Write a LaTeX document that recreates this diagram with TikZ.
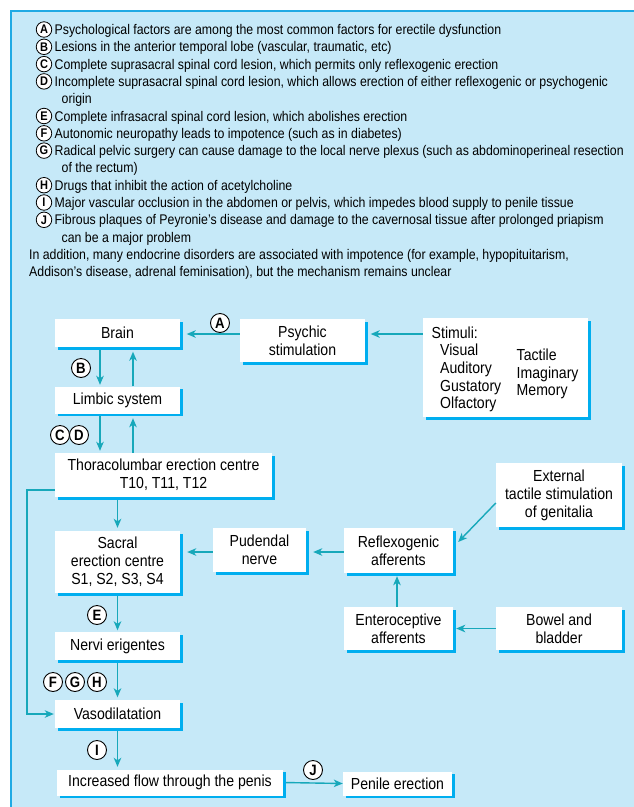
\documentclass[tikz,border=0pt]{standalone}
\usepackage{fontspec}
\setmainfont[FakeStretch=0.88]{Liberation Sans}
\usetikzlibrary{arrows.meta,shadows}
\definecolor{bgblue}{HTML}{C6E9F8}
\definecolor{shblue}{HTML}{00AEEF}
\definecolor{arrteal}{HTML}{17A8BA}
\definecolor{panelline}{HTML}{1FAAE4}
\begin{document}
\begin{tikzpicture}[x=1pt,y=-1pt,
  box/.style={fill=white, align=center, inner sep=0pt,
    font=\fontsize{16}{18}\selectfont,
    drop shadow={fill=shblue, opacity=1, shadow xshift=2.7pt, shadow yshift=-2.7pt}},
  arr/.style={draw=arrteal, line width=1.4pt, -{Stealth[length=9pt,width=7.5pt,inset=2.5pt]}},
  lab/.style={circle, draw=black, fill=white, line width=0.9pt, inner sep=0pt,
    minimum size=19pt, font=\fontsize{15}{15}\selectfont\bfseries},
  llab/.style={circle, draw=black, fill=white, line width=0.8pt, inner sep=0pt,
    minimum size=15.5pt, font=\fontsize{12.5}{12.5}\selectfont\bfseries},
  ltxt/.style={anchor=base west, inner sep=0pt,
    font=\fontsize{14}{17.3}\selectfont},
  stxt/.style={anchor=base west, inner sep=0pt, font=\fontsize{16}{18}\selectfont},
]
\useasboundingbox (0,0) rectangle (634,807);
\fill[bgblue] (11,11) rectangle (634,807);
\draw[panelline, line width=1.5pt] (11,807) -- (11,11) -- (634,11);

% ---- list of causes ----
\node[llab] (ca) at (44,29.5) {A};
\node[ltxt] (ta) at (54.5,34.5) {Psychological factors are among the most common factors for erectile dysfunction};
\node[llab] (cb) at (44,46.8) {B};
\node[ltxt] (tb) at (54.5,51.8) {Lesions in the anterior temporal lobe (vascular, traumatic, etc)};
\node[llab] (cc) at (44,64.1) {C};
\node[ltxt] (tc) at (54.5,69.1) {Complete suprasacral spinal cord lesion, which permits only reflexogenic erection};
\node[llab] (cd) at (44,81.4) {D};
\node[ltxt] (td) at (54.5,86.4) {Incomplete suprasacral spinal cord lesion, which allows erection of either reflexogenic or psychogenic};
\node[ltxt] (td2) at (61.5,103.7) {origin};
\node[llab] (ce) at (44,116) {E};
\node[ltxt] (te) at (54.5,121) {Complete infrasacral spinal cord lesion, which abolishes erection};
\node[llab] (cf) at (44,133.3) {F};
\node[ltxt] (tf) at (54.5,138.3) {Autonomic neuropathy leads to impotence (such as in diabetes)};
\node[llab] (cg) at (44,150.6) {G};
\node[ltxt] (tg) at (54.5,155.6) {Radical pelvic surgery can cause damage to the local nerve plexus (such as abdominoperineal resection};
\node[ltxt] (tg2) at (61.5,172.9) {of the rectum)};
\node[llab] (ch) at (44,185.2) {H};
\node[ltxt] (th) at (54.5,190.2) {Drugs that inhibit the action of acetylcholine};
\node[llab] (ci) at (44,202.5) {I};
\node[ltxt] (ti) at (54.5,207.5) {Major vascular occlusion in the abdomen or pelvis, which impedes blood supply to penile tissue};
\node[llab] (cj) at (44,219.8) {J};
\node[ltxt] (tj) at (54.5,224.8) {Fibrous plaques of Peyronie's disease and damage to the cavernosal tissue after prolonged priapism};
\node[ltxt] (tj2) at (61.5,242.1) {can be a major problem};
\node[ltxt] (tk) at (29,259.4) {In addition, many endocrine disorders are associated with impotence (for example, hypopituitarism,};
\node[ltxt] (tk2) at (29,276.7) {Addison's disease, adrenal feminisation), but the mechanism remains unclear};

% ---- boxes ----
\node[box, minimum width=125pt, minimum height=28pt] (brain) at (117.5,333) {Brain};
\node[box, minimum width=125pt, minimum height=27pt] (limbic) at (117.5,400) {Limbic system};
\node[box, minimum width=217pt, minimum height=44pt] (thoraco) at (163.5,475) {Thoracolumbar erection centre\\T10, T11, T12};
\node[box, minimum width=125pt, minimum height=43pt] (psychic) at (302.5,340.5) {Psychic\\stimulation};
\node[box, minimum width=165pt, minimum height=99pt] (stimuli) at (505.5,367.5) {};
\node[stxt] (s0) at (431.5,338) {Stimuli:};
\node[stxt] (s1) at (440,355.7) {Visual};
\node[stxt] (s2) at (440,373.4) {Auditory};
\node[stxt] (s3) at (440,391.1) {Gustatory};
\node[stxt] (s4) at (440,408.4) {Olfactory};
\node[stxt] (s5) at (516.5,360.7) {Tactile};
\node[stxt] (s6) at (516.5,378.4) {Imaginary};
\node[stxt] (s7) at (516.5,395.9) {Memory};
\node[box, minimum width=126pt, minimum height=64pt] (external) at (559,495) {External\\tactile stimulation\\of genitalia};
\node[box, minimum width=109pt, minimum height=45pt] (reflexo) at (398.5,550.5) {Reflexogenic\\afferents};
\node[box, minimum width=109pt, minimum height=43pt] (entero) at (398.5,628.5) {Enteroceptive\\afferents};
\node[box, minimum width=126pt, minimum height=43pt] (bowel) at (559,628.5) {Bowel and\\bladder};
\node[box, minimum width=93pt, minimum height=44pt] (pudendal) at (259.5,550) {Pudendal\\nerve};
\node[box, minimum width=125pt, minimum height=62pt] (sacral) at (117.5,562) {Sacral\\erection centre\\S1, S2, S3, S4};
\node[box, minimum width=125pt, minimum height=28pt] (nervi) at (117.5,646) {Nervi erigentes};
\node[box, minimum width=125pt, minimum height=28pt] (vaso) at (117.5,714) {Vasodilatation};
\node[box, minimum width=226pt, minimum height=26pt] (increased) at (170,782.5) {Increased flow through the penis};
\node[box, minimum width=109pt, minimum height=24pt] (penile) at (397.5,783.5) {Penile erection};

% ---- connectors ----
\draw[arr, shorten <=2.7pt, shorten >=1.5pt] (brain.south -| 100,0) -- (limbic.north -| 100,0);
\draw[arr, shorten >=4.5pt] (limbic.north -| 133,0) -- (brain.south -| 133,0);
\draw[arr, shorten <=2.7pt, shorten >=2pt] (limbic.south -| 100,0) -- (thoraco.north -| 100,0);
\draw[arr, shorten >=4.5pt] (thoraco.north -| 133,0) -- (limbic.south -| 133,0);
\draw[arr, shorten <=2.7pt, shorten >=3pt] (thoraco.south -| 117.5,0) -- (sacral.north);
\draw[arr, shorten <=2.7pt, shorten >=1.5pt] (sacral.south) -- (nervi.north);
\draw[arr, shorten <=2.7pt, shorten >=2.5pt] (nervi.south) -- (vaso.north);
\draw[arr, shorten <=2.7pt, shorten >=2.5pt] (vaso.south) -- (increased.north -| vaso.south);
\draw[arr, shorten >=1pt] ([yshift=-15pt]thoraco.west) -- ++(-28,0) |- (vaso.west);
\draw[arr, shorten >=6.5pt] (psychic.west |- 0,334) -- (brain.east |- 0,334);
\draw[arr, shorten >=5.5pt] (stimuli.west |- 0,334) -- (psychic.east |- 0,334);
\draw[arr] ([yshift=-8pt]external.west) -- ([xshift=5pt,yshift=8.5pt]reflexo.east);
\draw[arr, shorten >=3pt] (bowel.west) -- (entero.east);
\draw[arr, shorten >=3pt] (entero.north -| 397,0) -- (reflexo.south -| 397,0);
\draw[arr, shorten >=7pt] (reflexo.west |- 0,552) -- (pudendal.east |- 0,552);
\draw[arr, shorten >=7pt] (pudendal.west |- 0,552) -- (sacral.east |- 0,552);
\draw[arr, shorten <=3pt] (increased.east) -- (penile.west);

% ---- cause labels on the diagram ----
\node[lab] (la) at (220,323) {A};
\node[lab] (lb) at (81,368) {B};
\node[lab] (lc) at (60,435) {C};
\node[lab] (ld) at (79,435) {D};
\node[lab] (le) at (97,615) {E};
\node[lab] (lf) at (53,682) {F};
\node[lab] (lg) at (75,682) {G};
\node[lab] (lh) at (97,682) {H};
\node[lab] (li) at (97,750) {I};
\node[lab] (lj) at (313,770) {J};
\end{tikzpicture}
\end{document}
